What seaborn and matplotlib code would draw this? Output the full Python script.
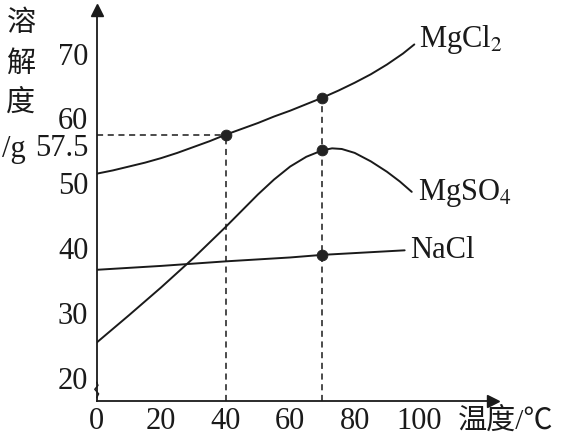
import numpy as np
import pandas as pd
import matplotlib
matplotlib.use("Agg")
import matplotlib.pyplot as plt
import seaborn as sns

# solubility values (temperature in C, solubility in g)
mgcl2_t = [0, 5, 10, 15, 20, 25, 30, 35, 40, 45, 50, 55, 60, 65, 70, 75, 80, 85, 90, 95, 98.5]
mgcl2_s = [51.5, 52.0, 52.6, 53.2, 53.9, 54.7, 55.6, 56.5, 57.5, 58.4, 59.3, 60.3, 61.2, 62.2,
           63.2, 64.3, 65.5, 66.8, 68.3, 70.0, 71.4]

mgso4_t = [0, 10, 20, 30, 40, 45, 50, 55, 60, 65, 70, 73, 76, 80, 85, 90, 94, 97.7]
mgso4_s = [25.5, 29.7, 34.0, 38.5, 43.3, 45.8, 48.3, 50.6, 52.6, 54.1, 55.1, 55.4, 55.3, 54.7,
           53.4, 51.8, 50.3, 48.7]

nacl_t = [0, 20, 40, 60, 70, 95.5]
nacl_s = [36.7, 37.3, 38.0, 38.6, 39.0, 39.7]

dot_t = [40, 70, 70, 70]
dot_s = [57.5, 63.2, 55.1, 39.0]

names = ["MgCl$_2$", "MgSO$_4$", "NaCl"]
yticks = [20, 30, 40, 50, 60, 70]
xticks = [0, 20, 40, 60, 80, 100]

sns.set_style("white")
plt.rcParams["font.family"] = ["Liberation Serif", "Noto Sans CJK SC"]
plt.rcParams["mathtext.fontset"] = "stix"

fig = plt.figure(figsize=(5.64, 4.36), dpi=100)
ax = fig.add_axes([96.7 / 564, 1 - 401 / 436, (493 - 96.7) / 564, (401 - 10) / 436])
ax.set_xlim(0, 122.9)
ax.set_ylim(16.5, 76.7)

df = pd.concat([
    pd.DataFrame({"t": mgcl2_t, "s": mgcl2_s, "salt": names[0]}),
    pd.DataFrame({"t": mgso4_t, "s": mgso4_s, "salt": names[1]}),
    pd.DataFrame({"t": nacl_t, "s": nacl_s, "salt": names[2]}),
])
sns.lineplot(data=df, x="t", y="s", units="salt", estimator=None, sort=False,
             color="#1a1a1a", lw=1.4, ax=ax, legend=False)

# dashed guide lines
dash = dict(ls=(0, (4, 3)), color="#1a1a1a", lw=1.1)
ax.plot([0, dot_t[0]], [dot_s[0], dot_s[0]], **dash)
ax.plot([dot_t[0], dot_t[0]], [16.5, dot_s[0]], **dash)
ax.plot([dot_t[1], dot_t[1]], [16.5, dot_s[1]], **dash)

sns.scatterplot(x=dot_t, y=dot_s, s=60, color="#222222", edgecolor="#222222", zorder=5, ax=ax)

# axes styling
for side in ["top", "right"]:
    ax.spines[side].set_visible(False)
for side in ["left", "bottom"]:
    ax.spines[side].set_color("#1a1a1a")
    ax.spines[side].set_linewidth(1.3)
ax.plot([1], [0], marker=">", color="#1a1a1a", ms=9, transform=ax.transAxes, clip_on=False)
ax.plot([0], [1], marker="^", color="#1a1a1a", ms=9, transform=ax.transAxes, clip_on=False)

ax.set_yticks(yticks)
ax.set_xticks(xticks)
ax.set_xticks([10, 30, 50, 70, 90], minor=True)
ax.tick_params(axis="both", which="both", direction="in", length=8, width=1.2,
               color="#1a1a1a", labelsize=22, labelcolor="#1a1a1a")
ax.tick_params(axis="y", pad=6)
ax.tick_params(axis="x", pad=4)
ax.set_xlabel("")
ax.set_ylabel("")

# small break mark on the y axis
ax.plot([0, 0.6, -0.6, 0.4, 0], [17.0, 17.6, 18.3, 18.9, 19.4], color="#1a1a1a", lw=1.0, clip_on=False)

# labels
ax.text(-2.5, 55.4, "57.5", ha="right", va="center", fontsize=22, color="#1a1a1a")
fig.text(2 / 564, 1 - 149 / 436, "/g", ha="left", va="center", fontsize=22, color="#1a1a1a")
for ch, yp in zip("溶解度", [23, 64, 103]):
    fig.text(21 / 564, 1 - yp / 436, ch, ha="center", va="center", fontsize=21,
             color="#1a1a1a", family=["Noto Sans CJK SC"])
fig.text(458 / 564, 1 - 421 / 436, "温度/℃", ha="left", va="center", fontsize=21, color="#1a1a1a")

ax.text(99.8, 72.2, names[0], ha="left", va="center", fontsize=22, color="#1a1a1a")
ax.text(99.5, 48.6, names[1], ha="left", va="center", fontsize=22, color="#1a1a1a")
ax.text(97.2, 39.7, names[2], ha="left", va="center", fontsize=22, color="#1a1a1a")

fig.savefig("out.png", dpi=100, facecolor="white")
